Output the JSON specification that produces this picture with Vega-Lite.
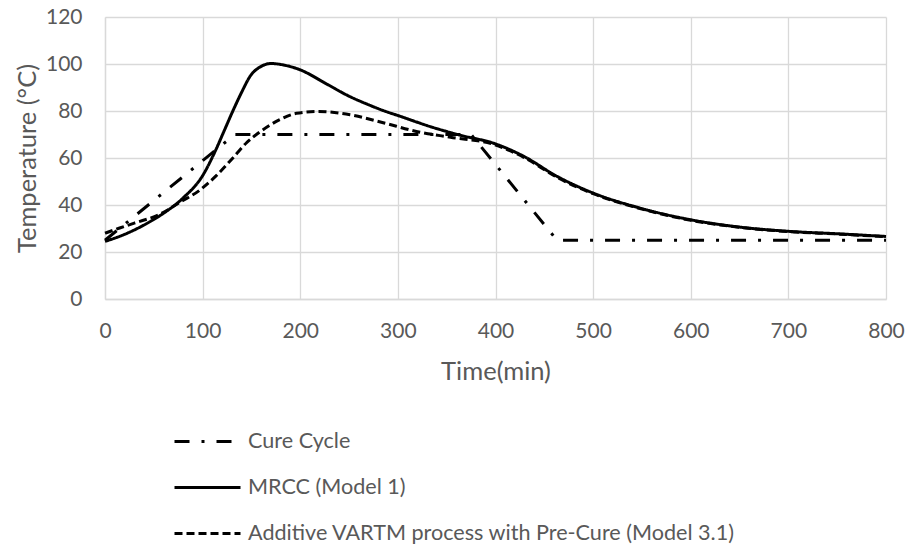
{
  "$schema": "https://vega.github.io/schema/vega-lite/v6.json",
  "width": 781,
  "height": 282,
  "autosize": {"type": "none"},
  "padding": {"left": 105, "top": 17, "right": 24, "bottom": 249},
  "background": "white",
  "config": {
    "font": "Lato",
    "view": {"stroke": null},
    "axis": {
      "gridColor": "#d9d9d9",
      "gridWidth": 1.3,
      "domainColor": "#d9d9d9",
      "domainWidth": 1.3,
      "ticks": false,
      "labelFlush": false,
      "labelColor": "#595959",
      "labelFontSize": 21,
      "titleColor": "#595959",
      "titleFontSize": 25.5,
      "titleFontWeight": "normal"
    }
  },
  "data": {
    "values": [
      {"s": "Cure Cycle", "t": 0, "T": 25},
      {"s": "Cure Cycle", "t": 133, "T": 70},
      {"s": "Cure Cycle", "t": 375, "T": 70},
      {"s": "Cure Cycle", "t": 463, "T": 25},
      {"s": "Cure Cycle", "t": 800, "T": 25},

      {"s": "MRCC (Model 1)", "t": 0, "T": 24.5},
      {"s": "MRCC (Model 1)", "t": 20, "T": 27.5},
      {"s": "MRCC (Model 1)", "t": 40, "T": 31.5},
      {"s": "MRCC (Model 1)", "t": 60, "T": 36.5},
      {"s": "MRCC (Model 1)", "t": 80, "T": 43},
      {"s": "MRCC (Model 1)", "t": 100, "T": 52.5},
      {"s": "MRCC (Model 1)", "t": 113, "T": 63},
      {"s": "MRCC (Model 1)", "t": 122, "T": 71.5},
      {"s": "MRCC (Model 1)", "t": 131.5, "T": 80.5},
      {"s": "MRCC (Model 1)", "t": 140, "T": 88},
      {"s": "MRCC (Model 1)", "t": 149, "T": 95},
      {"s": "MRCC (Model 1)", "t": 160, "T": 99},
      {"s": "MRCC (Model 1)", "t": 170, "T": 100.2},
      {"s": "MRCC (Model 1)", "t": 185, "T": 99.4},
      {"s": "MRCC (Model 1)", "t": 200, "T": 97.5},
      {"s": "MRCC (Model 1)", "t": 227, "T": 91.5},
      {"s": "MRCC (Model 1)", "t": 250, "T": 86.3},
      {"s": "MRCC (Model 1)", "t": 268, "T": 83},
      {"s": "MRCC (Model 1)", "t": 285, "T": 80.2},
      {"s": "MRCC (Model 1)", "t": 302, "T": 77.8},
      {"s": "MRCC (Model 1)", "t": 336, "T": 73},
      {"s": "MRCC (Model 1)", "t": 364, "T": 69.7},
      {"s": "MRCC (Model 1)", "t": 400, "T": 66},
      {"s": "MRCC (Model 1)", "t": 429, "T": 60.7},
      {"s": "MRCC (Model 1)", "t": 463, "T": 52.2},
      {"s": "MRCC (Model 1)", "t": 500, "T": 45.1},
      {"s": "MRCC (Model 1)", "t": 548, "T": 38.7},
      {"s": "MRCC (Model 1)", "t": 600, "T": 33.7},
      {"s": "MRCC (Model 1)", "t": 650, "T": 30.6},
      {"s": "MRCC (Model 1)", "t": 700, "T": 28.8},
      {"s": "MRCC (Model 1)", "t": 753, "T": 27.7},
      {"s": "MRCC (Model 1)", "t": 800, "T": 26.6},

      {"s": "Additive VARTM process with Pre-Cure (Model 3.1)", "t": 0, "T": 28},
      {"s": "Additive VARTM process with Pre-Cure (Model 3.1)", "t": 15, "T": 30.2},
      {"s": "Additive VARTM process with Pre-Cure (Model 3.1)", "t": 30, "T": 32.3},
      {"s": "Additive VARTM process with Pre-Cure (Model 3.1)", "t": 56, "T": 36},
      {"s": "Additive VARTM process with Pre-Cure (Model 3.1)", "t": 77, "T": 41.2},
      {"s": "Additive VARTM process with Pre-Cure (Model 3.1)", "t": 97, "T": 46.3},
      {"s": "Additive VARTM process with Pre-Cure (Model 3.1)", "t": 114, "T": 52.5},
      {"s": "Additive VARTM process with Pre-Cure (Model 3.1)", "t": 132, "T": 60.5},
      {"s": "Additive VARTM process with Pre-Cure (Model 3.1)", "t": 145, "T": 66.5},
      {"s": "Additive VARTM process with Pre-Cure (Model 3.1)", "t": 159, "T": 71.2},
      {"s": "Additive VARTM process with Pre-Cure (Model 3.1)", "t": 179, "T": 76.3},
      {"s": "Additive VARTM process with Pre-Cure (Model 3.1)", "t": 196, "T": 79},
      {"s": "Additive VARTM process with Pre-Cure (Model 3.1)", "t": 218, "T": 79.8},
      {"s": "Additive VARTM process with Pre-Cure (Model 3.1)", "t": 251, "T": 78.4},
      {"s": "Additive VARTM process with Pre-Cure (Model 3.1)", "t": 285, "T": 75},
      {"s": "Additive VARTM process with Pre-Cure (Model 3.1)", "t": 319, "T": 71.3},
      {"s": "Additive VARTM process with Pre-Cure (Model 3.1)", "t": 354, "T": 68.8},
      {"s": "Additive VARTM process with Pre-Cure (Model 3.1)", "t": 398, "T": 65.8},
      {"s": "Additive VARTM process with Pre-Cure (Model 3.1)", "t": 429, "T": 60.3},
      {"s": "Additive VARTM process with Pre-Cure (Model 3.1)", "t": 463, "T": 51.8},
      {"s": "Additive VARTM process with Pre-Cure (Model 3.1)", "t": 500, "T": 44.8},
      {"s": "Additive VARTM process with Pre-Cure (Model 3.1)", "t": 548, "T": 38.5},
      {"s": "Additive VARTM process with Pre-Cure (Model 3.1)", "t": 600, "T": 33.5},
      {"s": "Additive VARTM process with Pre-Cure (Model 3.1)", "t": 650, "T": 30.5},
      {"s": "Additive VARTM process with Pre-Cure (Model 3.1)", "t": 700, "T": 28.7},
      {"s": "Additive VARTM process with Pre-Cure (Model 3.1)", "t": 753, "T": 27.6},
      {"s": "Additive VARTM process with Pre-Cure (Model 3.1)", "t": 800, "T": 26.5}
    ]
  },
  "encoding": {
    "x": {
      "field": "t", "type": "quantitative",
      "scale": {"domain": [0, 800], "nice": false},
      "axis": {"values": [0, 100, 200, 300, 400, 500, 600, 700, 800], "title": "Time(min)", "labelPadding": 21, "titlePadding": 18}
    },
    "y": {
      "field": "T", "type": "quantitative",
      "scale": {"domain": [0, 120], "nice": false},
      "axis": {"values": [0, 20, 40, 60, 80, 100, 120], "title": "Temperature (°C)", "labelPadding": 23, "titlePadding": 5}
    },
    "strokeDash": {
      "field": "s", "type": "nominal",
      "scale": {
        "domain": ["Cure Cycle", "MRCC (Model 1)", "Additive VARTM process with Pre-Cure (Model 3.1)"],
        "range": [[15, 12, 3, 12], [1, 0], [8, 4]]
      },
      "legend": {
        "title": null,
        "orient": "none",
        "legendX": 68,
        "legendY": 390,
        "direction": "vertical",
        "symbolType": "stroke",
        "symbolSize": 4356,
        "symbolStrokeColor": "black",
        "symbolStrokeWidth": 3,
        "labelFontSize": 21.6,
        "labelColor": "#595959",
        "labelLimit": 800,
        "labelOffset": 6,
        "rowPadding": -21
      }
    }
  },
  "layer": [
    {
      "transform": [{"filter": "datum.s === 'Cure Cycle'"}],
      "mark": {"type": "line", "interpolate": "linear", "color": "black", "strokeWidth": 3, "strokeCap": "butt"}
    },
    {
      "transform": [{"filter": "datum.s !== 'Cure Cycle'"}],
      "mark": {"type": "line", "interpolate": "monotone", "color": "black", "strokeWidth": 3, "strokeCap": "butt"}
    }
  ]
}
